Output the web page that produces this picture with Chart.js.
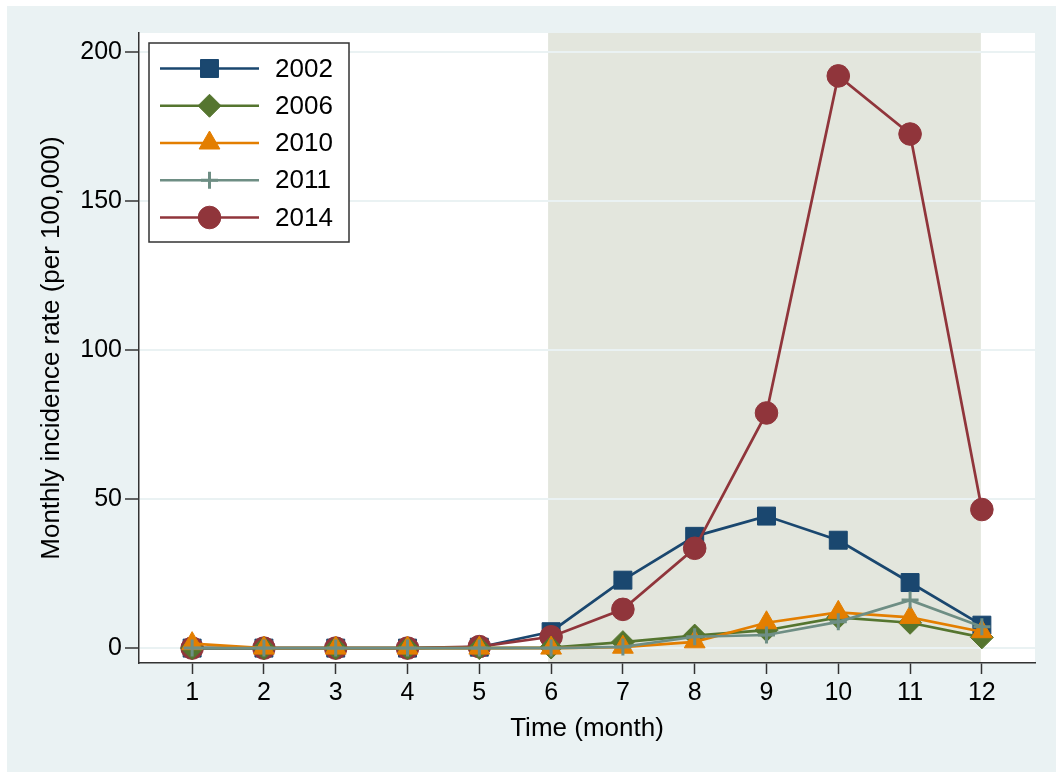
<!DOCTYPE html>
<html>
<head>
<meta charset="utf-8">
<script src="https://cdn.jsdelivr.net/npm/chart.js@4.4.1/dist/chart.umd.min.js"></script>
<style>
  html, body { margin: 0; padding: 0; background: #ffffff; }
  #wrap { position: relative; width: 1056px; height: 772px; }
</style>
</head>
<body>
<div id="wrap"><canvas id="grafico"></canvas></div>
<script>
// Dados
const months = [1, 2, 3, 4, 5, 6, 7, 8, 9, 10, 11, 12];
const yTicks = [0, 50, 100, 150, 200];
const seriesNames = ["2002", "2006", "2010", "2011", "2014"];

const rate2002 = [0, 0, 0, 0, 0.3, 5.5, 22.8, 37.5, 44.3, 36.2, 22.0, 7.7];
const rate2006 = [0, 0, 0, 0, 0, 0.2, 2.0, 4.2, 6.0, 10.3, 8.5, 3.6];
const rate2010 = [1.5, 0, 0, 0, 0, 0, 0.3, 2.1, 8.5, 12.0, 10.3, 5.5];
const rate2011 = [0, 0, 0, 0, 0, 0, 0.4, 3.8, 4.4, 8.8, 16.1, 7.2];
const rate2014 = [0, 0, 0, 0, 0.5, 3.8, 13.0, 33.5, 78.9, 192.0, 172.5, 46.5];

const shadeFrom = 6;
const shadeTo = 12;

const FONT = "'Liberation Sans', Arial, sans-serif";

// estilo de cada série (cor, marcador)
const styles = [
    { color: "#1a476f", pointStyle: "rect", radius: 12.7, bw: 1, order: 4 },
    { color: "#55752f", pointStyle: "rectRot", radius: 11.5, bw: 1, order: 2 },
    { color: "#e37e00", pointStyle: "triangle", radius: 12, bw: 1, order: 1 },
    { color: "#6e8e84", pointStyle: "cross", radius: 8.5, bw: 3, order: 0 },
    { color: "#90353b", pointStyle: "circle", radius: 11.3, bw: 1, order: 3 }
];
const values = [rate2002, rate2006, rate2010, rate2011, rate2014];

// fundo externo, área branca e faixa sombreada
const backgroundPlugin = {
    id: "backgroundPlugin",
    beforeDraw(chart) {
        const { ctx, chartArea } = chart;
        const x = chart.scales.x;
        ctx.save();
        ctx.fillStyle = "#eaf2f3";
        ctx.fillRect(7, 6, chart.width - 7, chart.height - 6);
        ctx.fillStyle = "#ffffff";
        ctx.fillRect(chartArea.left, chartArea.top, chartArea.right - chartArea.left, chartArea.bottom - chartArea.top);
        const x0 = x.getPixelForValue(shadeFrom) - 3;
        const x1 = x.getPixelForValue(shadeTo) - 1;
        ctx.fillStyle = "#e3e6dd";
        ctx.fillRect(x0, chartArea.top, x1 - x0, chartArea.bottom - chartArea.top);
        ctx.restore();
    }
};

// legenda dentro do gráfico (linha + marcador)
const legendPlugin = {
    id: "legendPlugin",
    afterDraw(chart) {
        const ctx = chart.ctx;
        const area = chart.chartArea;
        const boxX = area.left + 10, boxY = area.top + 10;
        const boxW = 200, boxH = 199;
        ctx.save();
        ctx.fillStyle = "#ffffff";
        ctx.fillRect(boxX, boxY, boxW, boxH);
        ctx.strokeStyle = "#333333";
        ctx.lineWidth = 1.5;
        ctx.strokeRect(boxX, boxY, boxW, boxH);
        chart.data.datasets.forEach((ds, i) => {
            const cy = boxY + 25.5 + i * 37.25;
            const lx0 = boxX + 11, lx1 = boxX + 110;
            ctx.strokeStyle = ds.borderColor;
            ctx.lineWidth = 2.5;
            ctx.beginPath();
            ctx.moveTo(lx0, cy);
            ctx.lineTo(lx1, cy);
            ctx.stroke();
            ctx.fillStyle = ds.pointBackgroundColor;
            ctx.strokeStyle = ds.pointBorderColor;
            ctx.lineWidth = ds.pointBorderWidth;
            Chart.helpers.drawPoint(ctx, {
                pointStyle: ds.pointStyle, rotation: 0,
                radius: ds.pointRadius, borderWidth: ds.pointBorderWidth
            }, (lx0 + lx1) / 2, cy);
            ctx.fillStyle = "#000000";
            ctx.font = "26px " + FONT;
            ctx.textBaseline = "middle";
            ctx.textAlign = "left";
            ctx.fillText(ds.label, boxX + 126, cy + 1);
        });
        ctx.restore();
    }
};

const ctx = document.getElementById("grafico").getContext("2d");

new Chart(ctx, {
    type: "line",
    data: {
        datasets: seriesNames.map((name, i) => ({
            label: name,
            data: months.map((m, k) => ({ x: m, y: values[i][k] })),
            borderColor: styles[i].color,
            backgroundColor: styles[i].color,
            borderWidth: 2.7,
            pointStyle: styles[i].pointStyle,
            pointRadius: styles[i].radius,
            pointHoverRadius: styles[i].radius,
            pointBackgroundColor: styles[i].color,
            pointBorderColor: styles[i].color,
            pointBorderWidth: styles[i].bw,
            order: styles[i].order,
            fill: false,
            tension: 0
        }))
    },
    options: {
        responsive: true,
        maintainAspectRatio: false,
        animation: false,
        layout: { padding: { left: 7, top: 33, right: 21, bottom: 0 } },
        plugins: {
            legend: { display: false },
            tooltip: { enabled: false }
        },
        scales: {
            x: {
                type: "linear",
                min: 0.26,
                max: 12.74,
                afterBuildTicks: s => { s.ticks = months.map(v => ({ value: v })); },
                afterFit: s => { s.height = 772 - 663; },
                grid: { drawOnChartArea: false, tickLength: 11, tickColor: "#333333", tickWidth: 1.5 },
                border: { color: "#333333", width: 1.5 },
                ticks: { color: "#000000", font: { family: FONT, size: 25 }, padding: 4, maxRotation: 0 },
                title: { display: true, text: "Time (month)", color: "#000000", font: { family: FONT, size: 26 }, padding: { top: 0, bottom: 28 } }
            },
            y: {
                min: -5,
                max: 206.4,
                afterBuildTicks: s => { s.ticks = yTicks.map(v => ({ value: v })); },
                afterFit: s => { s.width = 139 - 7; },
                grid: { color: "#eaf2f3", lineWidth: 2, tickLength: 14, tickColor: "#333333", tickWidth: 1.5 },
                border: { color: "#333333", width: 1.5 },
                ticks: { color: "#000000", font: { family: FONT, size: 25 }, padding: 3 },
                title: { display: true, text: "Monthly incidence rate (per 100,000)", color: "#000000", font: { family: FONT, size: 26 }, padding: { top: 29 } }
            }
        }
    },
    plugins: [backgroundPlugin, legendPlugin]
});
</script>
</body>
</html>
